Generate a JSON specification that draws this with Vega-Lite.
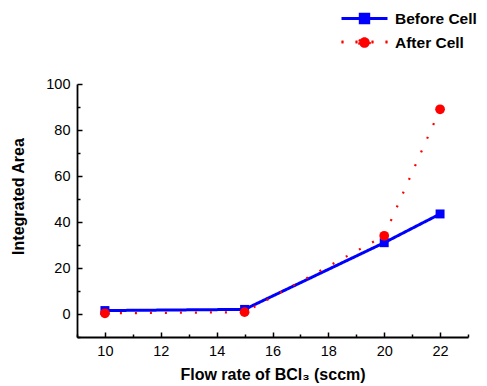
{
  "$schema": "https://vega.github.io/schema/vega-lite/v6.json",
  "width": 391,
  "height": 253,
  "autosize": "none",
  "padding": {"left": 77, "top": 84, "right": 19, "bottom": 49},
  "background": "white",
  "config": {
    "view": {"stroke": null},
    "font": "Liberation Sans",
    "axis": {
      "grid": false,
      "domainColor": "black",
      "domainWidth": 1.8,
      "tickColor": "black",
      "tickWidth": 1.5,
      "labelColor": "black",
      "labelFont": "Liberation Sans",
      "labelFontSize": 14.5,
      "labelOverlap": false,
      "labelFlush": false,
      "titleColor": "black",
      "titleFont": "Liberation Sans",
      "titleFontSize": 16,
      "titleFontWeight": "bold"
    }
  },
  "data": {
    "values": [
      {"series": "Before Cell", "flow": 10, "area": 1.5},
      {"series": "Before Cell", "flow": 15, "area": 2.0},
      {"series": "Before Cell", "flow": 20, "area": 31.0},
      {"series": "Before Cell", "flow": 22, "area": 43.5},
      {"series": "After Cell", "flow": 10, "area": 0.3},
      {"series": "After Cell", "flow": 15, "area": 0.8},
      {"series": "After Cell", "flow": 20, "area": 34.0},
      {"series": "After Cell", "flow": 22, "area": 89.0}
    ]
  },
  "encoding": {
    "x": {
      "field": "flow",
      "type": "quantitative",
      "scale": {"domain": [9, 23], "nice": false, "zero": false},
      "axis": {
        "title": "Flow rate of BCl₃ (sccm)",
        "values": [9, 10, 11, 12, 13, 14, 15, 16, 17, 18, 19, 20, 21, 22, 23],
        "labelExpr": "datum.value % 2 == 0 ? datum.label : ''",
        "tickSize": {"condition": {"test": "datum.value % 2 != 0", "value": -3}, "value": -5},
        "labelPadding": 12,
        "titlePadding": 7
      }
    },
    "y": {
      "field": "area",
      "type": "quantitative",
      "scale": {"domain": [-10, 100], "nice": false, "zero": false},
      "axis": {
        "title": "Integrated Area",
        "values": [-10, 0, 10, 20, 30, 40, 50, 60, 70, 80, 90, 100],
        "labelExpr": "datum.value % 20 == 0 ? datum.label : ''",
        "tickSize": {"condition": {"test": "datum.value % 20 != 0", "value": -3}, "value": -5},
        "labelPadding": 12,
        "titlePadding": 19,
        "titleY": 112
      }
    }
  },
  "layer": [
    {
      "mark": {"type": "line", "clip": false},
      "encoding": {
        "color": {
          "field": "series",
          "type": "nominal",
          "sort": ["Before Cell", "After Cell"],
          "scale": {"domain": ["Before Cell", "After Cell"], "range": ["#0000ff", "#ff0000"]},
          "legend": {
            "orient": "none",
            "legendX": 276,
            "legendY": -77,
            "title": null,
            "labelFont": "Liberation Sans",
            "labelFontSize": 15.5,
            "labelFontWeight": "bold",
            "labelColor": "black",
            "symbolSize": 400,
            "symbolStrokeWidth": 3,
            "labelOffset": 19,
            "rowPadding": 2,
            "encode": {
              "symbols": {
                "update": {
                  "shape": {"signal": "datum.value === 'Before Cell' ? 'M-2.3,0H2.3M-0.42,-0.42H0.42V0.42H-0.42Z' : 'M-2.3,-0.1H-2.1V0.1H-2.3Z M-0.9,-0.1H-0.7V0.1H-0.9Z M0.7,-0.1H0.9V0.1H0.7Z M2.1,-0.1H2.3V0.1H2.1Z M-0.53,0A0.53,0.53 0 1 0 0.53,0A0.53,0.53 0 1 0 -0.53,0Z'"},
                  "strokeWidth": {"signal": "datum.value === 'Before Cell' ? 3 : 0"},
                  "fill": {"signal": "datum.value === 'Before Cell' ? '#0000ff' : '#ff0000'"},
                  "size": {"value": 400},
                  "opacity": {"value": 1}
                }
              }
            }
          }
        },
        "strokeDash": {
          "field": "series",
          "type": "nominal",
          "scale": {"domain": ["Before Cell", "After Cell"], "range": [[1, 0], [2, 13]]},
          "legend": null
        },
        "strokeWidth": {
          "field": "series",
          "type": "nominal",
          "scale": {"domain": ["Before Cell", "After Cell"], "range": [3, 2.2]},
          "legend": null
        }
      }
    },
    {
      "transform": [{"filter": "datum.series === 'Before Cell'"}],
      "mark": {"type": "point", "filled": true, "opacity": 1, "clip": false, "shape": "square", "size": 80, "color": "#0000ff"},
      "encoding": {}
    },
    {
      "transform": [{"filter": "datum.series === 'After Cell'"}],
      "mark": {"type": "point", "filled": true, "opacity": 1, "clip": false, "shape": "circle", "size": 95, "color": "#ff0000"},
      "encoding": {}
    }
  ]
}
